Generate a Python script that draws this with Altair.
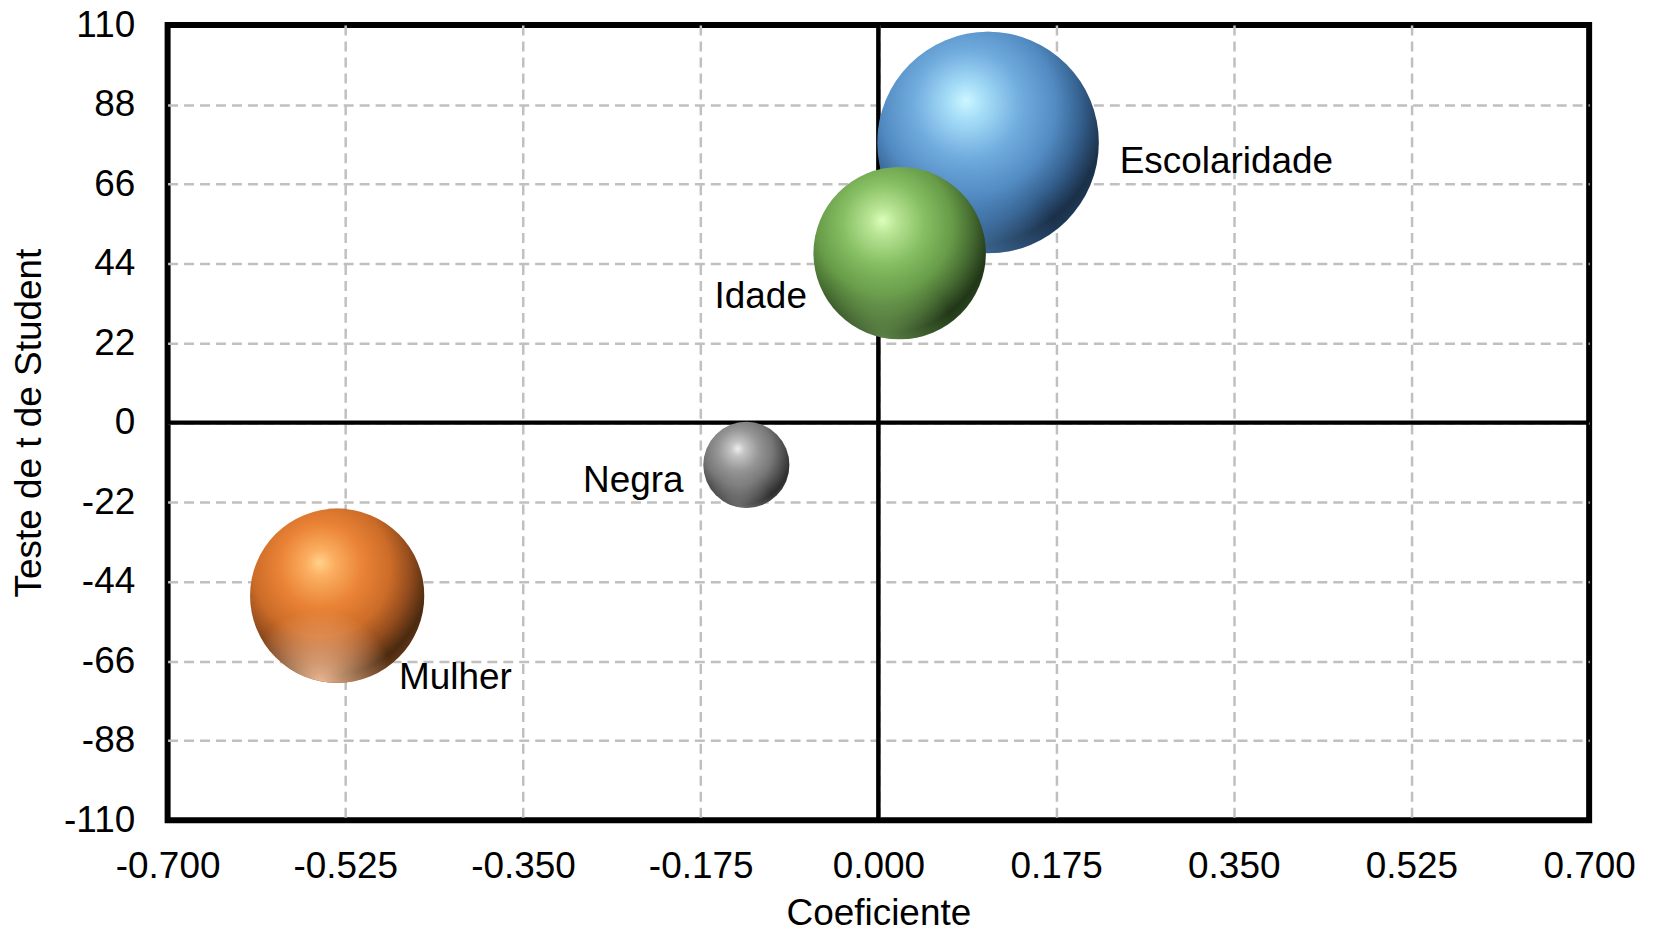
import altair as alt
import pandas as pd

# ---- data ----
names = ["Escolaridade", "Idade", "Negra", "Mulher"]
coef = [0.108, 0.021, -0.130, -0.533]
tstat = [77.5, 46.9, -11.7, -47.9]
x_ticks = [-0.7, -0.525, -0.35, -0.175, 0.0, 0.175, 0.35, 0.525, 0.7]
y_ticks = [-110, -88, -66, -44, -22, 0, 22, 44, 66, 88, 110]

df = pd.DataFrame({"name": names, "coef": coef, "t": tstat,
                   "mag": [abs(v) for v in tstat]})
zero_df = pd.DataFrame({"coef": [0.0], "t": [0.0]})

FONT = "Liberation Sans"
FS = 37
W, H = 1425, 797

x_axis = alt.Axis(
    values=x_ticks, title="Coeficiente",
    labelExpr="replace(format(datum.value, '.3f'), '−', '-')",
    labelFontSize=FS, labelFont=FONT, labelColor="black", labelPadding=28,
    titleFontSize=FS, titleFont=FONT, titleColor="black", titleFontWeight="normal",
    titlePadding=12, ticks=False, domain=False, labelFlush=False, labelOverlap=False,
    gridColor={"condition": {"test": "abs(datum.value) > 0.69", "value": "transparent"},
               "value": "#c0c0c0"},
    gridDash=[10, 6], gridWidth=2.5,
)
y_axis = alt.Axis(
    values=y_ticks, title="Teste de t de Student",
    labelExpr="replace(format(datum.value, 'd'), '−', '-')",
    labelFontSize=FS, labelFont=FONT, labelColor="black", labelPadding=33,
    titleFontSize=FS, titleFont=FONT, titleColor="black", titleFontWeight="normal",
    titlePadding=15, ticks=False, domain=False, labelFlush=False, labelOverlap=False,
    gridColor={"condition": {"test": "abs(datum.value) > 109", "value": "transparent"},
               "value": "#c0c0c0"},
    gridDash=[10, 6], gridWidth=2.5,
)

X = alt.X("coef:Q", scale=alt.Scale(domain=[-0.7, 0.7], nice=False, zero=False), axis=x_axis)
Y = alt.Y("t:Q", scale=alt.Scale(domain=[-110, 110], nice=False, zero=False), axis=y_axis)
SIZE = alt.Size("mag:Q", scale=alt.Scale(domain=[0, 100], range=[0, 63700]), legend=None)


def sphere(stops):
    return {"gradient": "radial", "x1": 0.4, "y1": 0.31, "r1": 0,
            "x2": 0.42, "y2": 0.36, "r2": 0.68,
            "stops": [{"offset": o, "color": c} for o, c in stops]}


def glow(color, alpha):
    return {"gradient": "radial", "x1": 0.4, "y1": 1.0, "r1": 0,
            "x2": 0.4, "y2": 1.0, "r2": 0.42,
            "stops": [{"offset": 0, "color": f"rgba({color},{alpha})"},
                      {"offset": 1, "color": f"rgba({color},0)"}]}


styles = {
    "Escolaridade": dict(stops=[(0, "#cdf6ff"), (0.12, "#a6def8"), (0.35, "#72addf"),
                                (0.58, "#528bc2"), (0.74, "#356190"), (0.9, "#1b3048"),
                                (1, "#203d5e")],
                         glow=("90,150,210", 0.6),
                         align="left", dx=132, dy=31),
    "Idade": dict(stops=[(0, "#dcffbc"), (0.12, "#b9e494"), (0.35, "#86bf63"),
                         (0.58, "#679b48"), (0.74, "#476d32"), (0.9, "#223618"),
                         (1, "#2a4a1e")],
                  glow=("130,180,100", 0.6),
                  align="right", dx=-93, dy=55),
    "Negra": dict(stops=[(0, "#eeeeee"), (0.12, "#c4c4c4"), (0.35, "#969696"),
                         (0.58, "#777777"), (0.74, "#535353"), (0.9, "#2e2e2e"),
                         (1, "#444444")],
                  glow=("170,170,170", 0.5),
                  align="right", dx=-63, dy=27),
    "Mulher": dict(stops=[(0, "#ffd28c"), (0.12, "#fbae60"), (0.35, "#ea8336"),
                          (0.58, "#cc6c28"), (0.74, "#954d1e"), (0.9, "#4a2a10"),
                          (1, "#6a3a18")],
                   glow=("255,200,160", 0.9),
                   align="left", dx=62, dy=94),
}

base = alt.Chart(df)

vrule = alt.Chart(zero_df).mark_rule(color="black", strokeWidth=4.5).encode(x=X)
hrule = alt.Chart(zero_df).mark_rule(color="black", strokeWidth=4.5).encode(y=Y)

layers = [vrule, hrule]
texts = []
for nm in ["Mulher", "Negra", "Escolaridade", "Idade"]:
    st = styles[nm]
    sub = base.transform_filter(alt.datum.name == nm)
    layers.append(sub.mark_circle(color=sphere(st["stops"]), opacity=1).encode(x=X, y=Y, size=SIZE))
    layers.append(sub.mark_circle(color=glow(*st["glow"]), opacity=1).encode(x=X, y=Y, size=SIZE))
    texts.append(sub.mark_text(align=st["align"], baseline="alphabetic", dx=st["dx"], dy=st["dy"],
                               fontSize=FS, font=FONT, color="black")
                 .encode(x=X, y=Y, text="name:N"))

chart = alt.layer(*layers, *texts).properties(
    width=W, height=H,
    autosize=alt.AutoSizeParams(type="none"),
    padding={"left": 160, "top": 16, "right": 60, "bottom": 116},
).configure(font=FONT).configure_view(stroke="black", strokeWidth=6)

chart.save("out.html", embed_options={"renderer": "svg", "actions": False})
